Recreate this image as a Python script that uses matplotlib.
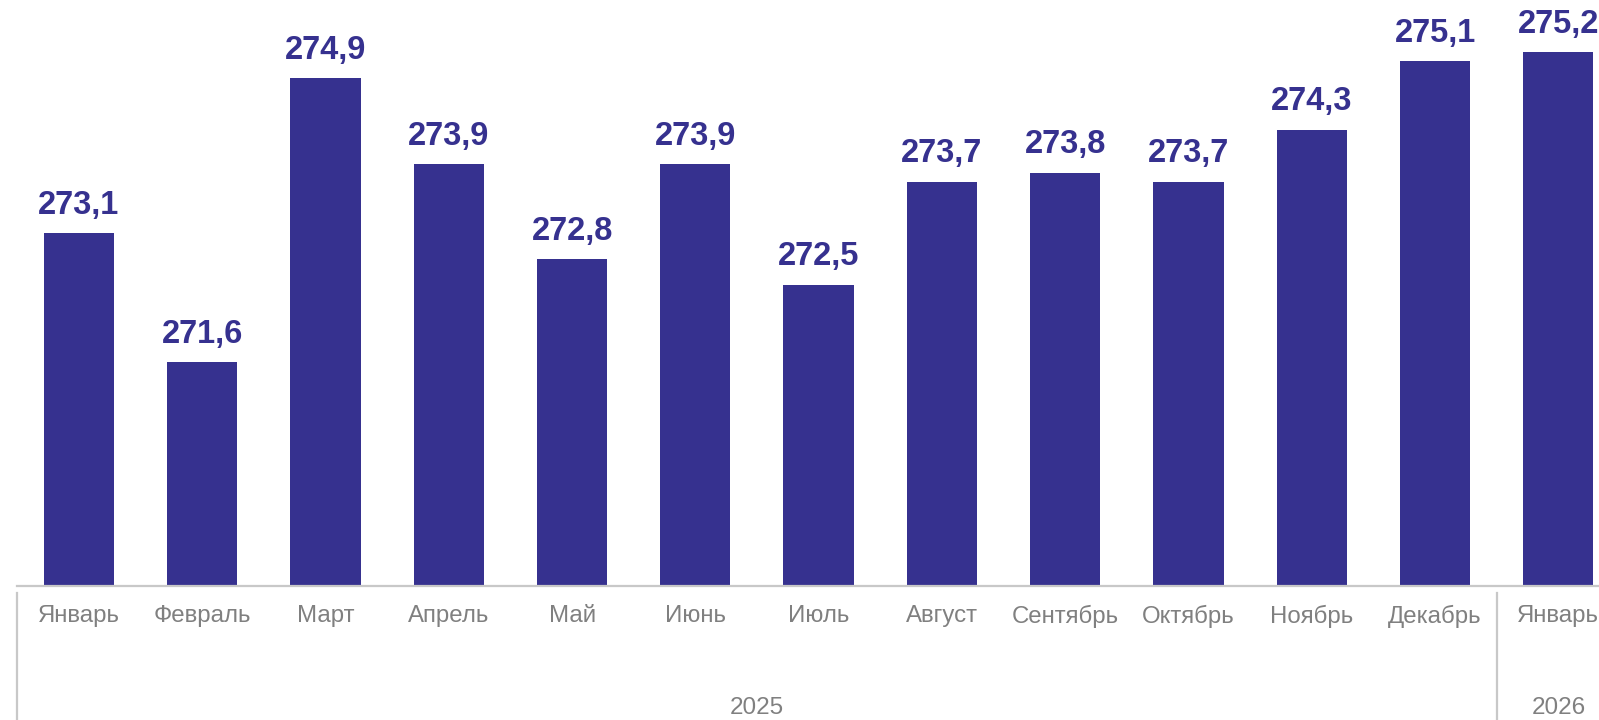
import matplotlib.pyplot as plt
import numpy as np

months = ['Январь', 'Февраль', 'Март', 'Апрель', 'Май', 'Июнь', 'Июль',
          'Август', 'Сентябрь', 'Октябрь', 'Ноябрь', 'Декабрь', 'Январь']
values = [273.1, 271.6, 274.9, 273.9, 272.8, 273.9, 272.5,
          273.7, 273.8, 273.7, 274.3, 275.1, 275.2]
years = ['2025', '2026']
year_spans = [(0, 11), (12, 12)]

plt.rcParams['font.family'] = ['Liberation Sans', 'DejaVu Sans']

fig = plt.figure(figsize=(15.99, 7.2), dpi=100)
ax_h = 586 / 720
ax = fig.add_axes([17.3 / 1599, 1 - ax_h, 1 - 17.3 / 1599, ax_h])

bar_color = '#36318f'
x = np.arange(len(values))
ax.bar(x, values, width=0.57, color=bar_color, bottom=0)
ax.set_ylim(269.0, 275.81)
ax.set_xlim(-0.5, 12.33)

for xi, v in zip(x, values):
    ax.annotate(f'{v:.1f}'.replace('.', ','), (xi, v), xytext=(0, 9),
                textcoords='offset points', ha='center', va='bottom',
                fontsize=23.5, fontweight='bold', color=bar_color)

for s in ['top', 'right', 'left']:
    ax.spines[s].set_visible(False)
ax.spines['bottom'].set_color('#c8c8c8')
ax.spines['bottom'].set_linewidth(1.6)
ax.set_yticks([])
ax.set_xticks([])

tr = ax.get_xaxis_transform()
for xi, m in zip(x, months):
    ax.text(xi, -30 / 586, m, transform=tr, ha='center', va='center',
            fontsize=17.3, color='#808080')

for (a, b), yr in zip(year_spans, years):
    ax.text((a + b) / 2, -122 / 586, yr, transform=tr, ha='center', va='center',
            fontsize=17.5, color='#808080')

for sep in [-0.5, 11.5]:
    ax.plot([sep, sep], [-7 / 586, -134 / 586], transform=tr, color='#c8c8c8',
            lw=1.6, clip_on=False)

fig.savefig('out.png', dpi=100)
